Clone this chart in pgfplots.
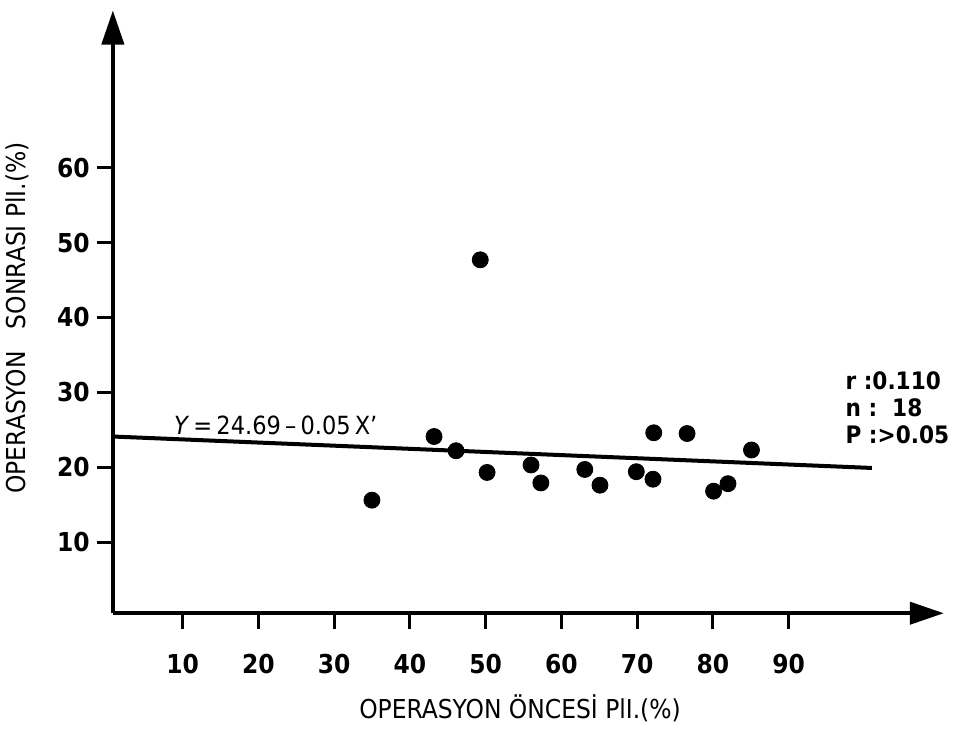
\documentclass[border=0pt]{standalone}
\usepackage{pgfplots}
\pgfplotsset{compat=1.18}
\usetikzlibrary{arrows.meta}
\usepackage{fontspec}
\setmainfont{DejaVu Sans Condensed}

\begin{document}
\begin{tikzpicture}
\begin{axis}[
    scale only axis,
    width=415pt, height=301pt,
    xmin=0.8, xmax=110.5,
    ymin=0.5, ymax=81,
    axis lines=left,
    axis line style={line width=2pt, -{Triangle[length=17pt,width=11pt]}},
    xtick={10,20,...,90},
    ytick={10,20,...,60},
    tick align=outside,
    major tick length=8pt,
    tick style={line width=1.5pt, black},
    /pgf/number format/assume math mode=true,
    ticklabel style={font=\fontsize{13}{15}\selectfont\bfseries},
    xticklabel style={yshift=-9pt},
    xlabel={OPERASYON ÖNCESİ PlI.(\%)},
    ylabel={OPERASYON\ \ \ SONRASI PlI.(\%)},
    label style={font=\fontsize{13}{15}\selectfont},
    xlabel style={at={(axis description cs:0.49,-0.158)}, anchor=center},
    ylabel style={at={(axis description cs:-0.115,0.49)}, anchor=center},
    clip=false,
]
\addplot[only marks, mark=*, mark size=4pt, black] coordinates {
    (35.0,15.6) (43.2,24.1) (46.1,22.2) (49.3,47.7) (50.2,19.3)
    (56.0,20.3) (57.3,17.9) (63.1,19.7) (65.1,17.6) (69.9,19.4)
    (72.1,18.4) (72.2,24.6) (76.6,24.5) (80.1,16.8) (82.0,17.8)
    (85.1,22.3)
};
\addplot[line width=2pt, black] coordinates {(0.8,24.1) (101,19.9)};
\node[font=\fontsize{12.5}{14}\selectfont] at (axis cs:22.3,25.6)
    {\textit{Y}\,=\,24.69\,--\,0.05\,X'};
\node[anchor=west, font=\fontsize{12}{14}\selectfont\bfseries] at (axis cs:96.6,31.6) {r :0.110};
\node[anchor=west, font=\fontsize{12}{14}\selectfont\bfseries] at (axis cs:96.6,28.0) {n :\ \ 18};
\node[anchor=west, font=\fontsize{12}{14}\selectfont\bfseries] at (axis cs:96.6,24.3) {P :>0.05};
\coordinate (bl) at (axis cs:-14.1,-15.1);
\coordinate (tr) at (axis cs:112.1,82.4);
\end{axis}
\pgfresetboundingbox
\path[use as bounding box] (bl) rectangle (tr);
\end{tikzpicture}
\end{document}
